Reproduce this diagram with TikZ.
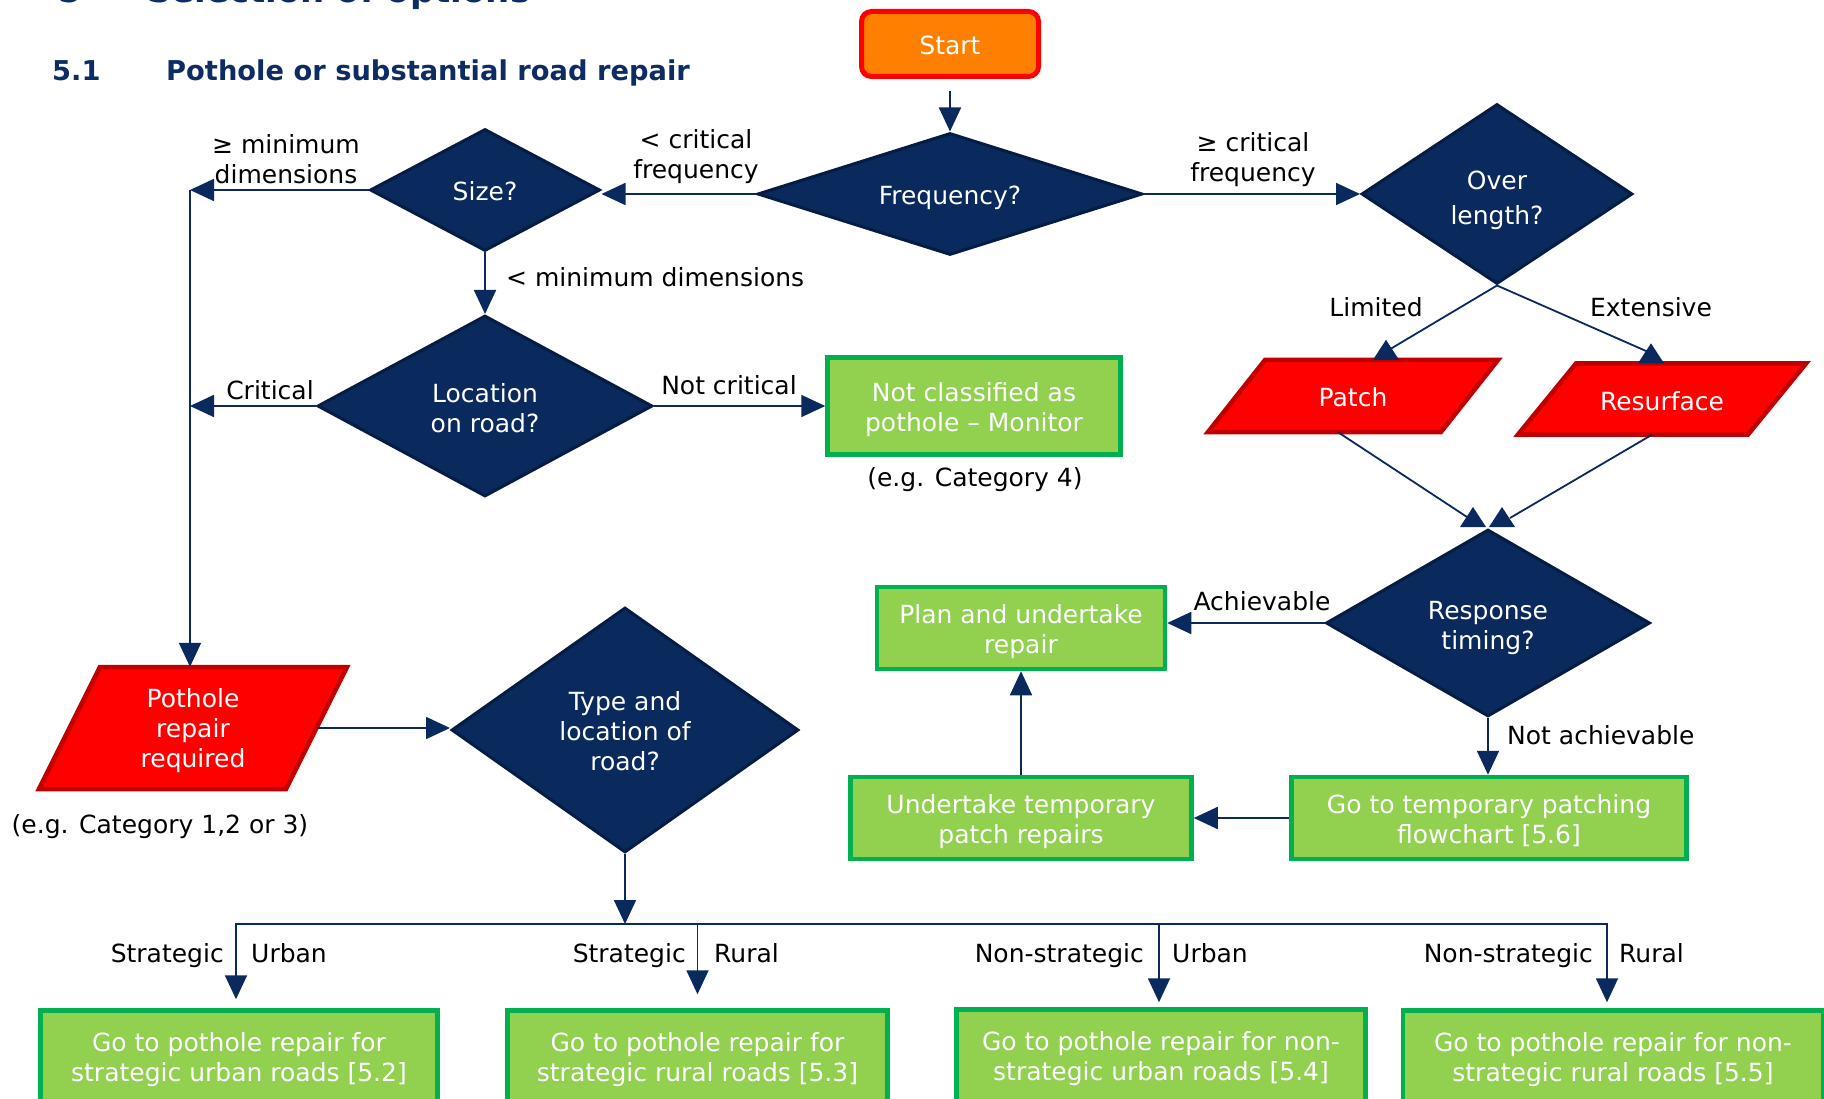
\documentclass[tikz,border=0pt]{standalone}
\usepackage{fontspec}
\setmainfont{DejaVu Sans}
\usetikzlibrary{shapes.geometric,arrows.meta,calc}

\definecolor{navy}{RGB}{10,41,92}
\definecolor{navyedge}{RGB}{6,28,66}
\definecolor{leaf}{RGB}{146,208,80}
\definecolor{leafedge}{RGB}{0,176,80}
\definecolor{warn}{RGB}{255,0,0}
\definecolor{warnedge}{RGB}{192,0,0}
\definecolor{amber}{RGB}{255,128,0}
\definecolor{titleblue}{RGB}{14,44,100}

% invisible strut that lowers a node text inside its shape
\newcommand\liftstrut[1][19pt]{\rule{0pt}{#1}}

% slanted (input/output) box: name, cx, cy, width, height, slant, text
\newcommand\slantbox[7]{%
  \path[para] (#2-#4/2+#6/2,#3-#5/2) -- (#2+#4/2+#6/2,#3-#5/2)
     -- (#2+#4/2-#6/2,#3+#5/2) -- (#2-#4/2-#6/2,#3+#5/2) -- cycle;
  \node[text=white, align=center, minimum width=#4, minimum height=#5] (#1) at (#2,#3) {#7};
}
% upward pointing arrow tip with its apex at the given coordinate
\newcommand\uptip[1]{%
  \fill[navy] ($(#1)+(-13,20)$) -- ($(#1)+(13,20)$) -- (#1) -- cycle;
}

\begin{document}
\begin{tikzpicture}[x=1pt,y=-1pt,
  every node/.style={font=\fontsize{25}{30}\selectfont, inner sep=0pt},
  decision/.style={diamond, fill=navy, draw=navyedge, line width=3pt, text=white, align=center},
  action/.style={rectangle, fill=leaf, draw=leafedge, line width=4.5pt, text=white, align=center},
  startbox/.style={rectangle, rounded corners=10pt, fill=amber, draw=warn, line width=5pt, text=white},
  para/.style={fill=warn, draw=warnedge, line width=4.5pt, line join=miter},
  lbl/.style={text=black, align=center},
  conn/.style={draw=navy, line width=1.8pt, -{Triangle[width=22pt,length=24pt]}},
  wire/.style={draw=navy, line width=1.8pt},
  heading/.style={text=titleblue, font=\fontsize{34}{40}\selectfont\bfseries, anchor=base west},
  subheading/.style={text=titleblue, font=\fontsize{27.3}{32}\selectfont\bfseries, anchor=base west}
]
\useasboundingbox (0,0) rectangle (1824,1099);

% headings
\node[heading] (secnum) at (58,3) {5};
\node[heading] (sectitle) at (147,3) {Selection of options};
\node[subheading] (subnum) at (52,81) {5.1};
\node[subheading] (subtitle) at (166,81) {Pothole or substantial road repair};

% decisions
\node[startbox, minimum width=177pt, minimum height=65pt] (start) at (950,44) {\liftstrut[21.4pt]Start};
\node[decision, aspect=3.1, minimum width=385pt, minimum height=122pt] (freq) at (950,194) {\liftstrut[26pt]Frequency?};
\node[decision, aspect=1.86, minimum width=230pt, minimum height=122pt] (size) at (485,190) {\liftstrut[21pt]Size?};
\node[decision, aspect=1.84, minimum width=335pt, minimum height=181pt] (loc) at (485,406) {\liftstrut[23.6pt]Location\\on road?};
\node[decision, aspect=1.5, minimum width=271pt, minimum height=180pt,
      font=\fontsize{25}{35}\selectfont] (over) at (1497,194) {\liftstrut[32pt]Over\\length?};
\node[decision, aspect=1.72, minimum width=324pt, minimum height=187pt] (resp) at (1488,623) {\liftstrut[29pt]Response\\timing?};
\node[decision, aspect=1.41, minimum width=347pt, minimum height=245pt] (type) at (625,730) {\liftstrut[22pt]Type and\\location of\\road?};

% actions
\node[action, minimum width=293pt, minimum height=97pt] (notcl) at (974,406) {\liftstrut[27pt]Not classified as\\pothole – Monitor};
\node[action, minimum width=288pt, minimum height=82pt] (plan) at (1021,628) {\liftstrut[26pt]Plan and undertake\\repair};
\node[action, minimum width=341pt, minimum height=82pt] (undert) at (1021,818) {\liftstrut[26pt]Undertake temporary\\patch repairs};
\node[action, minimum width=395pt, minimum height=82pt] (gotemp) at (1489,818) {\liftstrut[23.6pt]Go to temporary patching\\flowchart [5.6]};
\node[action, minimum width=397pt, minimum height=95pt] (su) at (239,1058) {\liftstrut[21.4pt]Go to pothole repair for\\strategic urban roads [5.2]};
\node[action, minimum width=380pt, minimum height=95pt] (sr) at (697.5,1058) {\liftstrut[21.4pt]Go to pothole repair for\\strategic rural roads [5.3]};
\node[action, minimum width=409pt, minimum height=95pt] (nu) at (1161,1057) {\liftstrut[21.4pt]Go to pothole repair for non-\\strategic urban roads [5.4]};
\node[action, minimum width=420pt, minimum height=95pt] (nr) at (1613,1058) {\liftstrut[21.4pt]Go to pothole repair for non-\\strategic rural roads [5.5]};

% slanted boxes
\slantbox{pothole}{193}{728}{247}{122}{61}{\liftstrut[23.6pt]Pothole\\repair\\required}
\slantbox{patch}{1353}{396}{233}{72}{57}{\liftstrut[21.4pt]Patch}
\slantbox{resurf}{1662}{399}{230}{71}{58}{\liftstrut[23.6pt]Resurface}

% notes
\node[lbl] (note123) at (160,827) {(e.g. Category 1,2 or 3)};
\node[lbl] (note4) at (975,480) {(e.g. Category 4)};

% junction points
\coordinate (jmin) at (190,190);
\coordinate (bus) at (625,924);

% connectors
\draw[conn, shorten <=12pt] (start.south) -- (freq.north);

\draw[conn] (freq.west) -- (freq.west -| size.east);
\node[lbl] (lcrit) at (696,157) {< critical\\frequency};

\draw[conn] (size.west) -- (size.west -| jmin);
\node[lbl] (lmin) at (286,159) {≥ minimum\\dimensions};
\draw[conn] (jmin) -- (jmin |- pothole.north);

\draw[conn] (size.south) -- (loc.north);
\node[lbl, anchor=west] (lltmin) at (506,277) {< minimum dimensions};

\draw[conn] (loc.west) -- (loc.west -| jmin);
\node[lbl] (lcritical) at (270,390) {Critical};

\draw[conn] (loc.east) -- (notcl.west);
\node[lbl] (lnotcrit) at (729,385) {Not critical};

\draw[conn] (freq.east) -- (over.west);
\node[lbl] (lgecrit) at (1253,160) {≥ critical\\frequency};

% over length to patch / resurface
\draw[wire] (over.south) -- ($(patch.north)+(36,-10)$);
\coordinate (limtip) at ($(patch.north)+(33,-20)$);
\uptip{limtip}
\node[lbl] (llimited) at (1376,307) {Limited};

\draw[wire] (over.south) -- ($(resurf.north)+(-13,-11)$);
\coordinate (exttip) at ($(resurf.north)+(-11,-20)$);
\uptip{exttip}
\node[lbl] (lextensive) at (1651,307) {Extensive};

% patch / resurface to response timing
\draw[wire] ($(patch.south)+(-15,0)$) -- ($(resp.north)+(-21,-11)$);
\coordinate (rtipl) at ($(resp.north)+(-15,-21)$);
\uptip{rtipl}
\draw[wire] ($(resurf.south)+(-10,0)$) -- ($(resp.north)+(22,-10)$);
\coordinate (rtipr) at ($(resp.north)+(14,-21)$);
\uptip{rtipr}

\draw[conn] (resp.west) -- (resp.west -| plan.east);
\node[lbl] (lach) at (1262,601) {Achievable};

\draw[conn] (resp.south) -- (resp.south |- gotemp.north);
\node[lbl, anchor=west] (lnotach) at (1507,735) {Not achievable};

\draw[conn] (gotemp.west) -- (gotemp.west -| undert.east);
\draw[conn] (undert.north) -- (plan.south);

\draw[conn] (pothole.east) -- (pothole.east -| type.west);
\draw[conn] (type.south) -- (bus);

% road type branches
\draw[conn, shorten >=9pt] (bus) -| ($(su.north)+(-3,0)$);
\draw[conn, shorten >=14pt] (bus) -| (sr.north);
\draw[conn, shorten >=5pt] (bus) -| ($(nu.north)+(-2,0)$);
\draw[conn, shorten >=6pt] (bus) -| ($(nr.north)+(-6,0)$);

\node[lbl, anchor=base east] (lsu1) at (224,962) {Strategic};
\node[lbl, anchor=base west] (lsu2) at (251,962) {Urban};
\node[lbl, anchor=base east] (lsr1) at (686,962) {Strategic};
\node[lbl, anchor=base west] (lsr2) at (714,962) {Rural};
\node[lbl, anchor=base east] (lnu1) at (1144,962) {Non-strategic};
\node[lbl, anchor=base west] (lnu2) at (1172,962) {Urban};
\node[lbl, anchor=base east] (lnr1) at (1593,962) {Non-strategic};
\node[lbl, anchor=base west] (lnr2) at (1619,962) {Rural};
\end{tikzpicture}
\end{document}
